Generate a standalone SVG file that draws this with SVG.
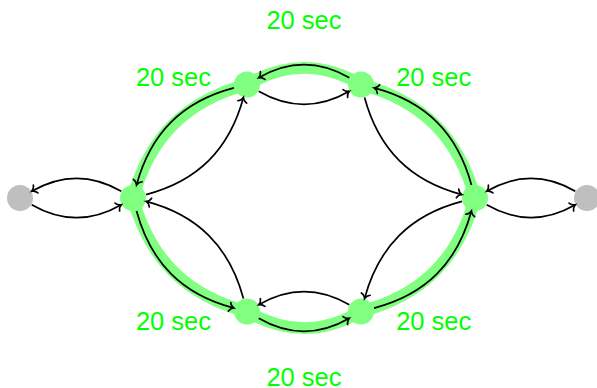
<svg xmlns="http://www.w3.org/2000/svg" width="597" height="388" viewBox="0 0 597 388">
<style>
.band{fill:none;stroke:#80ff80;stroke-width:12;stroke-linejoin:round}
.node{fill:#80ff80}
.gray{fill:#bfbfbf}
.edge{fill:none;stroke:#000;stroke-width:1.7;marker-end:url(#arr)}
.lbl{font-family:"Liberation Sans",Arial,sans-serif;font-size:25.5px;fill:#00ff00;text-anchor:middle}
</style>
<defs>
<marker id="arr" markerUnits="userSpaceOnUse" viewBox="-6 -6 8 12" refX="0" refY="0" markerWidth="8" markerHeight="12" orient="auto" overflow="visible">
<path d="M-4.6,-4.6 C-3.6,-2 -1.4,-0.45 0,0 C-1.4,0.45 -3.6,2 -4.6,4.6" fill="none" stroke="#000" stroke-width="1.6" stroke-linecap="round"/>
</marker>
</defs>
<g id="highlight">
<path class="band" d="M247,84.5 C186.13,100.67 149.43,137.2 133,198 C149.43,258.8 186.13,295.33 247,311.5 C285.65,333.82 322.35,333.82 361,311.5 C421.87,295.33 458.57,258.8 475,198 C458.57,137.2 421.87,100.67 361,84.5 C322.35,62.18 285.65,62.18 247,84.5 Z"/>
</g>
<g id="nodeGL"><circle class="gray" cx="20" cy="198" r="13"/></g>
<g id="nodeL"><circle class="node" cx="133" cy="198" r="13"/></g>
<g id="nodeTL"><circle class="node" cx="247" cy="84.5" r="13"/></g>
<g id="nodeTR"><circle class="node" cx="361" cy="84.5" r="13"/></g>
<g id="nodeR"><circle class="node" cx="475" cy="198" r="13"/></g>
<g id="nodeGR"><circle class="gray" cx="587" cy="198" r="13"/></g>
<g id="nodeBL"><circle class="node" cx="247" cy="311.5" r="13"/></g>
<g id="nodeBR"><circle class="node" cx="361" cy="311.5" r="13"/></g>
<g id="connectors">
<path class="edge" d="M121.31,191.25 C90.92,173.71 62.08,173.71 31.69,191.25"/>
<path class="edge" d="M31.69,204.75 C62.08,222.29 90.92,222.29 121.31,204.75"/>
<path class="edge" d="M486.69,204.75 C516.74,222.1 545.26,222.1 575.31,204.75"/>
<path class="edge" d="M575.31,191.25 C545.26,173.9 516.74,173.9 486.69,191.25"/>
<path class="edge" d="M349.31,77.75 C318.59,60.01 289.41,60.01 258.69,77.75"/>
<path class="edge" d="M258.69,91.25 C289.41,108.99 318.59,108.99 349.31,91.25"/>
<path class="edge" d="M258.69,318.25 C289.41,335.99 318.59,335.99 349.31,318.25"/>
<path class="edge" d="M349.31,304.75 C318.59,287.01 289.41,287.01 258.69,304.75"/>
<path class="edge" d="M146.06,194.56 C197.97,180.9 229.33,149.33 243.45,97.53"/>
<path class="edge" d="M233.94,87.94 C182.03,101.6 150.67,133.17 136.55,184.97"/>
<path class="edge" d="M364.55,97.53 C378.67,149.33 410.03,180.9 461.94,194.56"/>
<path class="edge" d="M471.45,184.97 C457.33,133.17 425.97,101.6 374.06,87.94"/>
<path class="edge" d="M243.45,298.47 C229.33,246.67 197.97,215.1 146.06,201.44"/>
<path class="edge" d="M136.55,211.03 C150.67,262.83 182.03,294.4 233.94,308.06"/>
<path class="edge" d="M461.94,201.44 C410.03,215.1 378.67,246.67 364.55,298.47"/>
<path class="edge" d="M374.06,308.06 C425.97,294.4 457.33,262.83 471.45,211.03"/>
</g>
<g id="labels">
<text class="lbl" x="304" y="29">20 sec</text>
<text class="lbl" x="173.5" y="86">20 sec</text>
<text class="lbl" x="433.7" y="86">20 sec</text>
<text class="lbl" x="173.5" y="330">20 sec</text>
<text class="lbl" x="433.7" y="330">20 sec</text>
<text class="lbl" x="304" y="386">20 sec</text>
</g>
</svg>
